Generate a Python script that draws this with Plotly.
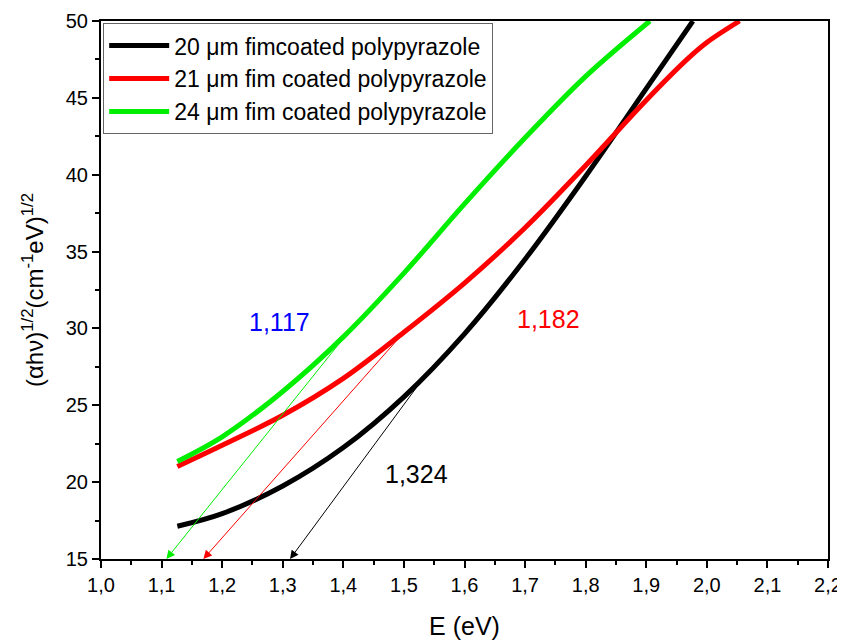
import plotly.graph_objects as go

# Data
E_black = [1.126, 1.2, 1.3, 1.4, 1.5, 1.6, 1.7, 1.8, 1.9, 1.977]
Y_black = [17.13, 17.95, 19.75, 22.25, 25.55, 29.65, 34.5, 39.9, 45.6, 50.0]

E_red = [1.126, 1.2, 1.3, 1.4, 1.5, 1.6, 1.7, 1.8, 1.9, 1.97, 2.0, 2.054]
Y_red = [21.02, 22.4, 24.35, 26.75, 29.75, 32.95, 36.55, 40.6, 44.85, 47.6, 48.6, 50.0]

E_green = [1.126, 1.2, 1.3, 1.4, 1.5, 1.6, 1.7, 1.8, 1.906]
Y_green = [21.35, 22.95, 25.9, 29.45, 33.6, 38.1, 42.4, 46.4, 50.0]

names = ["20 \u03bcm fimcoated polypyrazole",
         "21 \u03bcm fim coated polypyrazole",
         "24 \u03bcm fim coated polypyrazole"]
colors = ["#000000", "#ff0000", "#00ee00"]

# Tangent (extrapolation) arrows: start point -> intercept
arrow_start_E = [1.529, 1.499, 1.405]
arrow_start_Y = [26.6, 29.7, 29.6]
arrow_end_E = [1.312, 1.169, 1.108]
arrow_end_Y = [15.0, 15.0, 15.0]

# Gap labels
gap_labels = ["1,324", "1,182", "1,117"]
gap_label_E = [1.521, 1.739, 1.295]
gap_label_Y = [20.5, 30.6, 30.45]
gap_label_colors = ["#000000", "#ff0000", "#0000ff"]

x_tickvals = [1.0 + 0.1 * i for i in range(13)]
x_ticktext = ["1,0", "1,1", "1,2", "1,3", "1,4", "1,5", "1,6", "1,7", "1,8", "1,9", "2,0", "2,1", "2,2"]
y_tickvals = [15, 20, 25, 30, 35, 40, 45, 50]

FONT = "Arial, Liberation Sans, sans-serif"

fig = go.Figure()
for E, Y, n, c in zip([E_black, E_red, E_green], [Y_black, Y_red, Y_green], names, colors):
    fig.add_trace(go.Scatter(x=E, y=Y, mode="lines", name=n,
                             line=dict(color=c, width=5, shape="spline", smoothing=1.0)))

for xs, ys, xe, ye, c in zip(arrow_start_E, arrow_start_Y, arrow_end_E, arrow_end_Y, colors):
    fig.add_annotation(x=xe, y=ye, ax=xs, ay=ys, xref="x", yref="y", axref="x", ayref="y",
                       showarrow=True, arrowhead=2, arrowsize=1.7, arrowwidth=1,
                       arrowcolor=c, text="", standoff=0)

for t, xe, ye, c in zip(gap_labels, gap_label_E, gap_label_Y, gap_label_colors):
    fig.add_annotation(x=xe, y=ye, xref="x", yref="y", text=t, showarrow=False,
                       font=dict(family=FONT, size=25, color=c))

# page body has an 8px margin, so the figure is sized/offset to compensate
fig.update_layout(
    width=837, height=634,
    margin=dict(l=93, r=17, t=13, b=83),
    paper_bgcolor="white", plot_bgcolor="white",
    font=dict(family=FONT, size=20, color="black"),
    showlegend=True,
    legend=dict(x=0.003, y=0.996, xanchor="left", yanchor="top",
                bordercolor="#666666", borderwidth=1, bgcolor="white",
                font=dict(family=FONT, size=23), tracegroupgap=0, itemwidth=60),
    xaxis=dict(range=[1.0, 2.2], tickvals=x_tickvals, ticktext=x_ticktext,
               ticks="outside", ticklen=7, tickwidth=1.5, tickcolor="black",
               tickfont=dict(family=FONT, size=20), ticklabeloverflow="allow",
               minor=dict(dtick=0.05, tick0=1.0, ticks="outside", ticklen=4, tickwidth=1.5, tickcolor="black"),
               showline=True, linecolor="black", linewidth=2, mirror=True,
               showgrid=False, zeroline=False, automargin=False,
               title=dict(text="E (eV)", font=dict(family=FONT, size=25), standoff=22)),
    yaxis=dict(range=[15, 50], tickvals=y_tickvals,
               ticks="outside", ticklen=7, tickwidth=1.5, tickcolor="black",
               tickfont=dict(family=FONT, size=20), ticklabeloverflow="allow",
               minor=dict(dtick=2.5, tick0=15, ticks="outside", ticklen=4, tickwidth=1.5, tickcolor="black"),
               showline=True, linecolor="black", linewidth=2, mirror=True,
               showgrid=False, zeroline=False, automargin=False,
               title=dict(text="(\u03b1h\u03bd)<sup>1/2</sup>(cm<sup>-1</sup>eV)<sup>1/2</sup>",
                          font=dict(family=FONT, size=24), standoff=15)),
)

fig.write_html("out.html")
